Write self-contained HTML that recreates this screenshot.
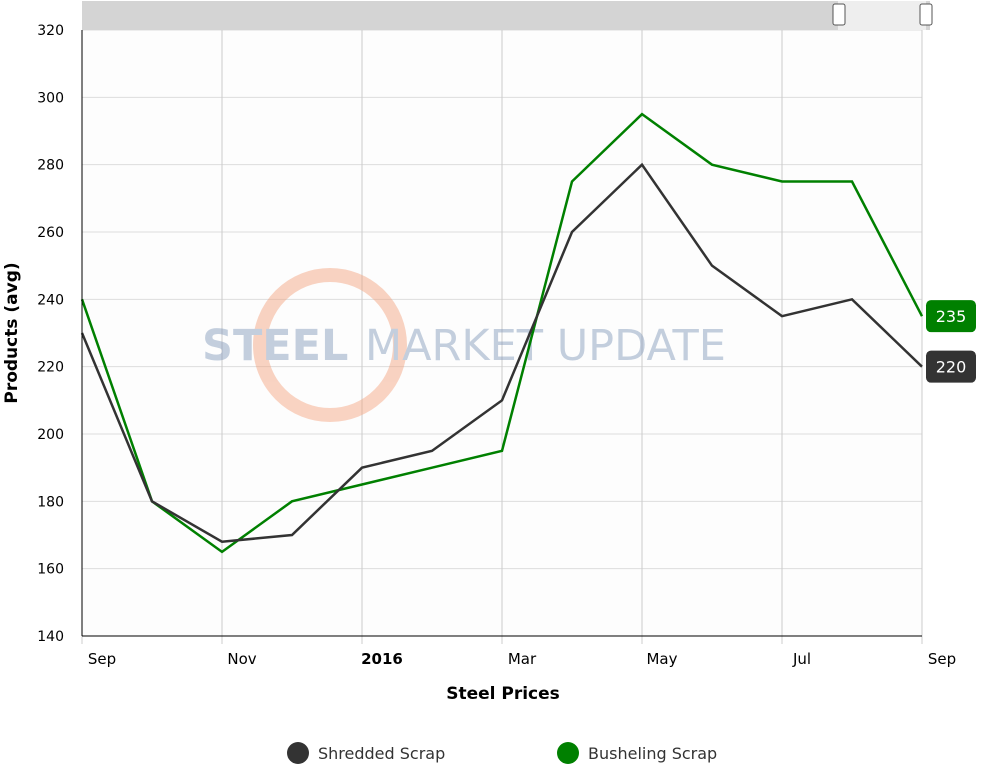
<!DOCTYPE html>
<html><head><meta charset="utf-8"><style>
body{margin:0;background:#fff;font-family:"Liberation Sans",Verdana,sans-serif;}
svg text{font-family:"DejaVu Sans","Liberation Sans",sans-serif;}
</style></head><body>
<svg id="chart" width="982" height="768" xmlns="http://www.w3.org/2000/svg">
<rect x="0" y="0" width="982" height="768" fill="#fff"/>
<rect x="82" y="30" width="840" height="606" fill="#fdfdfd"/>
<g id="grid"></g>
<g opacity="0.45">
<circle cx="330" cy="345" r="70" fill="none" stroke="#f3a07a" stroke-width="14"/>
<text x="202" y="360" font-size="43" font-weight="bold" fill="#7d96b8">STEEL</text>
<text x="365" y="360" font-size="43" fill="#7d96b8">MARKET UPDATE</text>
</g>
<g id="series"></g>
<g id="axes"></g>
<g>
<rect x="82" y="1" width="848" height="29" fill="#d4d4d4"/>
<rect x="838" y="1" width="88" height="29" fill="#eeeeee"/>
<rect x="833" y="4" width="12" height="21" rx="2" fill="#fff" stroke="#555"/>
<rect x="920" y="4" width="12" height="21" rx="2" fill="#fff" stroke="#555"/>
</g>
<text x="503" y="699" text-anchor="middle" font-size="17" font-weight="bold">Steel Prices</text>
<text transform="translate(17,333) rotate(-90)" text-anchor="middle" font-size="17" font-weight="bold">Products (avg)</text>
<g><circle cx="298" cy="753" r="11" fill="#333"/><text x="318" y="759" font-size="16" fill="#333">Shredded Scrap</text></g>
<g><circle cx="568" cy="753" r="11" fill="#008000"/><text x="588" y="759" font-size="16" fill="#333">Busheling Scrap</text></g>
</svg>
<script>
const categories=["Sep","Oct","Nov","Dec","Jan","Feb","Mar","Apr","May","Jun","Jul","Aug","Sep"];
const shredded=[230,180,168,170,190,195,210,260,280,250,235,240,220];
const busheling=[240,180,165,180,185,190,195,275,295,280,275,275,235];
const yTicks=[140,160,180,200,220,240,260,280,300,320];
const xTickLabels=["Sep","","Nov","","2016","","Mar","","May","","Jul","","Sep"];
const NS="http://www.w3.org/2000/svg";
const x0=82,x1=922,y0=636,y1=30;
const xs=i=>x0+(x1-x0)*i/(categories.length-1);
const ys=v=>y0-(v-140)/(320-140)*(y0-y1);
function mk(t,a,p){const e=document.createElementNS(NS,t);for(const k in a)e.setAttribute(k,a[k]);p.appendChild(e);return e;}
const grid=document.getElementById('grid'),axes=document.getElementById('axes'),ser=document.getElementById('series');
yTicks.forEach(v=>{
 const l=mk('line',{x1:x0,x2:x1,y1:ys(v),y2:ys(v),stroke:'#ddd'},grid);
 
 
 const t=mk('text',{x:64,y:ys(v)+5,'text-anchor':'end','font-size':14,fill:'#000'},axes);
 t.textContent=v;
 
 
});
xTickLabels.forEach((lab,i)=>{
 if(!lab)return;
 const l=mk('line',{x1:xs(i),x2:xs(i),y1:y1,y2:y0+8,stroke:'#ccc'},grid);
 
 
 const t=mk('text',{x:xs(i)+20,y:664,'text-anchor':'middle','font-size':15,fill:'#000','font-weight':lab==='2016'?'bold':'normal'},axes);
 t.textContent=lab;
 
 
});
const ax=mk('line',{x1:x0,x2:x1,y1:y0,y2:y0,stroke:'#000'},axes);


const ay=mk('line',{x1:x0,x2:x0,y1:y1,y2:y0,stroke:'#000'},axes);


function line(data,color,name){
 const p=mk('polyline',{points:data.map((v,i)=>xs(i)+','+ys(v)).join(' '),fill:'none',stroke:color,'stroke-width':2.5},ser);
 
 
 const v=data[data.length-1],y=ys(v);
 const r=mk('rect',{x:x1+4,y:y-16,width:50,height:32,rx:5,fill:color},ser);
 
 
 const t=mk('text',{x:x1+29,y:y+6,'text-anchor':'middle','font-size':16,fill:'#fff'},ser);
 t.textContent=v;
 
 
}
line(busheling,'#008000','busheling');
line(shredded,'#333','shredded');
</script>
</body></html>
